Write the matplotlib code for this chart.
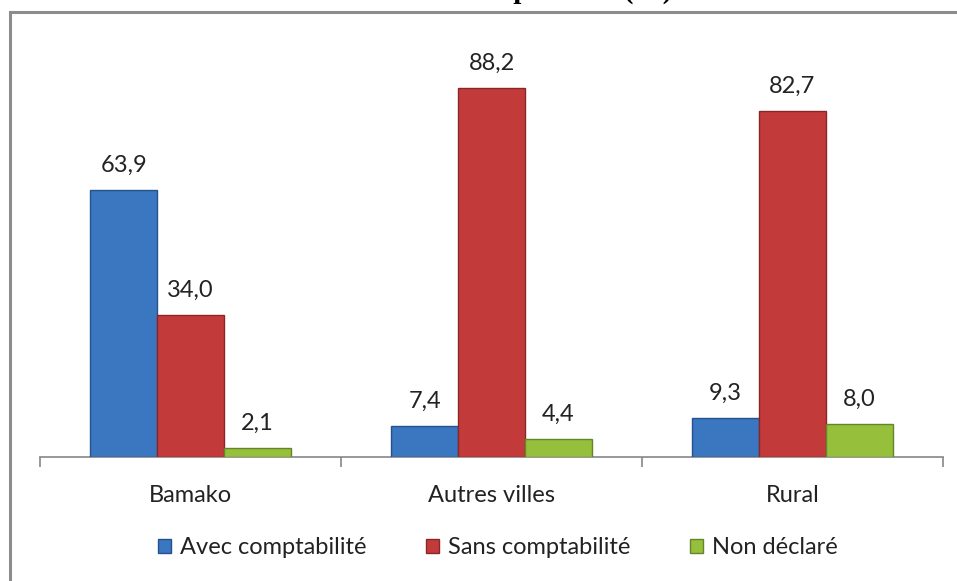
import numpy as np
import matplotlib
matplotlib.use("Agg")
import matplotlib.pyplot as plt
from matplotlib.patches import Rectangle, Patch

# =========================
# DATA
# =========================

categories = ["Bamako", "Autres villes", "Rural"]
series_names = ["Avec comptabilité", "Sans comptabilité", "Non déclaré"]
avec = [63.9, 7.4, 9.3]
sans = [34.0, 88.2, 82.7]
non_declare = [2.1, 4.4, 8.0]

colors = ["#3b76c0", "#c23b3a", "#96bf3c"]
edges = ["#24528c", "#8a2626", "#64862a"]

# =========================
# FIGURE
# =========================

plt.rcParams["font.family"] = ["Lato", "DejaVu Sans"]

fig = plt.figure(figsize=(9.57, 5.81), dpi=100)
W, H = 957, 581

# grey outer frame (cut off on right and bottom)
fig.patches.append(Rectangle((10 / W, -0.1), 1.2, 1 - 12 / H + 0.1,
                             transform=fig.transFigure, fill=False,
                             edgecolor="#8c8c8c", linewidth=2.2, zorder=0))

# title, mostly cut off at the top (only descenders show)
fig.text(672 / W, 1 + 2 / H, "Tenue de comptabilité (%)", ha="right",
         va="baseline", fontsize=21, fontweight="bold",
         family="Liberation Serif", color="black")

ax = fig.add_axes([40 / W, 1 - 457 / H, 903 / W, 418 / H])

x = np.arange(len(categories))
width = 0.222
values = [avec, sans, non_declare]

for i, vals in enumerate(values):
    pos = x + (i - 1) * width
    ax.bar(pos, vals, width, color=colors[i], edgecolor=edges[i],
           linewidth=1.0, zorder=3)
    for p, v in zip(pos, vals):
        ax.annotate(f"{v:.1f}".replace(".", ","), (p, v),
                    xytext=(0, 13), textcoords="offset points",
                    ha="center", va="baseline", fontsize=17, color="#222222")

ax.set_xlim(-0.5, 2.5)
ax.set_ylim(0, 100)

for s in ["top", "right", "left"]:
    ax.spines[s].set_visible(False)
ax.spines["bottom"].set_color("#868686")
ax.spines["bottom"].set_linewidth(1.2)
ax.set_yticks([])

ax.set_xticks([-0.5, 0.5, 1.5, 2.5])
ax.set_xticklabels([])
ax.tick_params(axis="x", which="major", direction="out", length=7,
               color="#868686", width=1.2)
ax.set_xticks(x, minor=True)
ax.set_xticklabels(categories, minor=True, fontsize=17, color="#222222")
ax.tick_params(axis="x", which="minor", length=0, pad=20)

handles = [Patch(facecolor=colors[i], edgecolor=edges[i], label=series_names[i])
           for i in range(3)]
fig.legend(handles=handles, loc="center", bbox_to_anchor=(498 / W, 1 - 548 / H),
           ncol=3, frameon=False, fontsize=17, handlelength=0.55,
           handleheight=0.55, handletextpad=0.4, columnspacing=2.5,
           labelcolor="#222222")

fig.savefig("out.png", dpi=100)
